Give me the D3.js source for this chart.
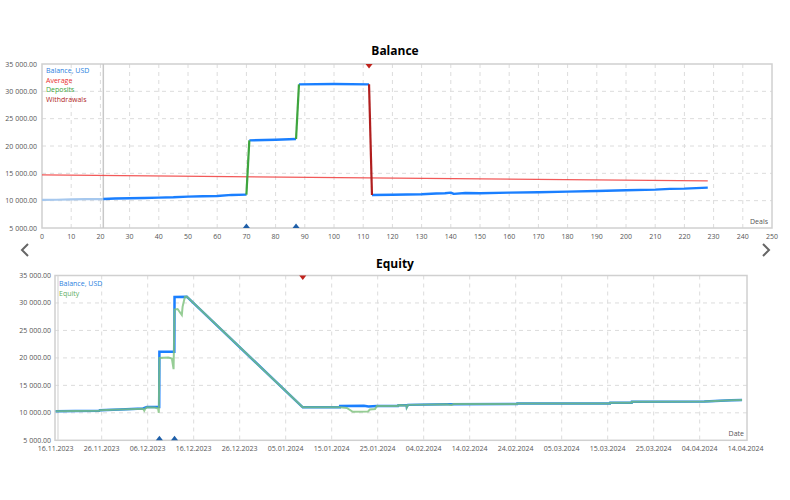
<!DOCTYPE html>
<html>
<head>
<meta charset="utf-8">
<script src="https://cdn.jsdelivr.net/npm/d3@7"></script>
<style>
body{margin:0;background:#fff;}
svg{display:block;font-family:"Open Sans",sans-serif;}
.tick{font-size:7px;fill:#555;}
</style>
</head>
<body>
<svg width="790" height="500"></svg>
<script>
// ---- Balance chart (by deals) ----
const dealTicks = [0,10,20,30,40,50,60,70,80,90,100,110,120,130,140,150,160,170,180,190,200,210,220,230,240,250];
const moneyTicks = [5000,10000,15000,20000,25000,30000,35000];
const moneyLabels = ['5 000.00','10 000.00','15 000.00','20 000.00','25 000.00','30 000.00','35 000.00'];

const balDeals = [0,5,10,15,21,25,30,35,40,45,50,55,60,65,70,71,80,87,88,100,112,113,120,130,135,138,140,141,145,150,160,170,180,190,200,210,215,220,228];
const balValues = [10130,10170,10220,10270,10300,10400,10430,10480,10560,10620,10740,10800,10860,11050,11100,21020,21150,21280,31280,31350,31280,11050,11080,11170,11300,11350,11470,11250,11400,11350,11470,11540,11650,11780,11900,12020,12150,12200,12390];
const avgDeals = [0,228];
const avgValues = [14700,13620];
const depositDeals = [70,87];
const withdrawalDeals = [112];
const startDeal = 21;

// ---- Equity chart (by date) ----
const dateTicks = ['16.11.2023','26.11.2023','06.12.2023','16.12.2023','26.12.2023','05.01.2024','15.01.2024','25.01.2024','04.02.2024','14.02.2024','24.02.2024','05.03.2024','15.03.2024','25.03.2024','04.04.2024','14.04.2024'];
const balDates = ['16.11.2023 00:00','20.11.2023 06:00','25.11.2023 12:00','25.11.2023 14:00','30.11.2023 00:00','05.12.2023 00:00','05.12.2023 20:00','08.12.2023 12:00','08.12.2023 13:00','11.12.2023 19:00','11.12.2023 20:00','14.12.2023 12:00','08.01.2024 17:00','16.01.2024 19:00','16.01.2024 20:00','22.01.2024 00:00','23.01.2024 00:00','24.01.2024 20:00','29.01.2024 10:00','29.01.2024 12:00','31.01.2024 07:00','31.01.2024 08:00','31.01.2024 14:00','09.02.2024 00:00','24.02.2024 07:00','24.02.2024 08:00','15.03.2024 12:00','15.03.2024 13:00','20.03.2024 05:00','20.03.2024 06:00','05.04.2024 00:00','10.04.2024 21:00','13.04.2024 05:00'];
const balDateValues = [10300,10350,10400,10480,10600,10800,11050,11050,21100,21100,31100,31150,11000,11000,11250,11300,11150,11250,11250,11400,11400,11100,11450,11580,11600,11700,11720,11820,11830,12000,12050,12300,12330];
const eqDates = ['16.11.2023 00:00','20.11.2023 06:00','25.11.2023 12:00','25.11.2023 14:00','30.11.2023 00:00','05.12.2023 00:00','05.12.2023 06:00','05.12.2023 12:00','05.12.2023 20:00','07.12.2023 12:00','08.12.2023 06:00','08.12.2023 10:00','08.12.2023 13:00','10.12.2023 12:00','11.12.2023 06:00','11.12.2023 15:00','11.12.2023 20:00','12.12.2023 12:00','13.12.2023 10:00','13.12.2023 14:00','14.12.2023 02:00','14.12.2023 12:00','08.01.2024 17:00','16.01.2024 19:00','18.01.2024 07:00','19.01.2024 14:00','22.01.2024 22:00','23.01.2024 07:00','24.01.2024 10:00','24.01.2024 20:00','29.01.2024 10:00','29.01.2024 12:00','31.01.2024 07:00','31.01.2024 08:00','31.01.2024 14:00','09.02.2024 00:00','10.02.2024 00:00','10.02.2024 12:00','24.02.2024 07:00','24.02.2024 08:00','15.03.2024 12:00','15.03.2024 13:00','20.03.2024 05:00','20.03.2024 06:00','05.04.2024 00:00','10.04.2024 21:00','13.04.2024 05:00'];
const eqValues = [10300,10350,10400,10480,10600,10750,10400,10800,11000,10950,10800,10000,20000,20050,19900,17950,28800,28900,27800,29300,31100,31150,11000,11000,10900,10200,10250,10600,10700,11250,11250,11400,11350,11000,11450,11580,11450,11600,11600,11700,11720,11820,11830,12000,12050,12300,12330];
const depositDates = ['08.12.2023 13:00','11.12.2023 20:00'];
const withdrawalDates = ['08.01.2024 17:00'];

const svg = d3.select('svg');
const parseT = d3.timeParse('%d.%m.%Y %H:%M');
const parseD = d3.timeParse('%d.%m.%Y');

function drawFrame(g, x0, x1, y0, y1){
    g.append('rect').attr('x',x0).attr('y',y0).attr('width',x1-x0).attr('height',y1-y0)
        .attr('fill','none').attr('stroke','#d0d0d0').attr('stroke-width',1.5);
}
function markUp(g, x, y){
    g.append('path').attr('d',`M${x-3.5},${y}L${x},${y-4.5}L${x+3.5},${y}Z`).attr('fill','#1f5fa8');
}
function markDown(g, x, y){
    g.append('path').attr('d',`M${x-3.5},${y}L${x},${y+4.5}L${x+3.5},${y}Z`).attr('fill','#c0221c');
}

// ================= Balance =================
const xd = d3.scaleLinear().domain([0,250]).range([42,772]);
const yb = d3.scaleLinear().domain([5000,35000]).range([228,64]);
const gTop = svg.append('g');

gTop.append('text').attr('x',395).attr('y',55).attr('text-anchor','middle')
   .attr('font-size',12).attr('font-weight','bold').text('Balance');

gTop.selectAll('.vgrid').data(dealTicks.slice(1,-1)).enter().append('line')
   .attr('x1',d=>xd(d)).attr('x2',d=>xd(d)).attr('y1',yb(35000)).attr('y2',yb(5000))
   .attr('stroke','#dcdcdc').attr('stroke-dasharray','4,4');
gTop.selectAll('.hgrid').data(moneyTicks.slice(1,-1)).enter().append('line')
   .attr('x1',xd(0)).attr('x2',xd(250)).attr('y1',d=>yb(d)).attr('y2',d=>yb(d))
   .attr('stroke','#dcdcdc').attr('stroke-dasharray','4,4');
drawFrame(gTop, xd(0), xd(250), yb(35000), yb(5000));

gTop.selectAll('.ylab').data(moneyTicks).enter().append('text').attr('class','tick')
   .attr('x',37).attr('y',d=>yb(d)+2.5).attr('text-anchor','end').text((d,i)=>moneyLabels[i]);
gTop.selectAll('.xlab').data(dealTicks).enter().append('text').attr('class','tick')
   .attr('x',d=>xd(d)).attr('y',239).attr('text-anchor','middle').text(d=>d);
gTop.append('text').attr('class','tick').attr('x',768).attr('y',224).attr('text-anchor','end').text('Deals');

// start marker line
gTop.append('line').attr('x1',xd(startDeal)).attr('x2',xd(startDeal)).attr('y1',yb(35000)).attr('y2',yb(5000))
   .attr('stroke','#c8c8c8').attr('stroke-width',1.5);

// average
const avgLine = d3.line().x((d,i)=>xd(avgDeals[i])).y(d=>yb(d));
gTop.append('path').attr('d',avgLine(avgValues)).attr('fill','none')
   .attr('stroke','#f03c3c').attr('stroke-width',1.3).attr('opacity',0.85);

// balance pieces
const pts = balDeals.map((d,i)=>[xd(d), yb(balValues[i])]);
function piece(a, b, color, w){
    const seg = pts.filter((p,i)=>balDeals[i]>=a && balDeals[i]<=b);
    gTop.append('path').attr('d',d3.line()(seg)).attr('fill','none')
       .attr('stroke',color).attr('stroke-width',w).attr('stroke-linejoin','round');
}
piece(0,21,'#a6c8ee',2.2);
piece(21,70,'#1a7fff',2.4);
piece(71,87,'#1a7fff',2.4);
piece(88,112,'#1a7fff',2.4);
piece(113,228,'#1a7fff',2.4);
depositDeals.forEach(d=>piece(d,d+1,'#3ea53e',2.2));
withdrawalDeals.forEach(d=>piece(d,d+1,'#b01e1e',2.2));

depositDeals.forEach(d=>markUp(gTop, xd(d), yb(5000)));
withdrawalDeals.forEach(d=>markDown(gTop, xd(d), yb(35000)));

const leg1 = [['Balance, USD','#2a7fe0'],['Average','#e83030'],['Deposits','#3ea53e'],['Withdrawals','#b01e1e']];
gTop.selectAll('.leg').data(leg1).enter().append('text').attr('font-size',7)
   .attr('x',46).attr('y',(d,i)=>73+i*9.7).attr('fill',d=>d[1]).text(d=>d[0]);

// arrows
svg.append('path').attr('d','M28,244L22,250L28,256').attr('fill','none').attr('stroke','#666').attr('stroke-width',2);
svg.append('path').attr('d','M763,244L769,250L763,256').attr('fill','none').attr('stroke','#666').attr('stroke-width',2);

// ================= Equity =================
const xt = d3.scaleTime().domain([parseD('16.11.2023'), parseD('14.04.2024')]).range([55.7,745.7]);
const ye = d3.scaleLinear().domain([5000,35000]).range([440.3,275.5]);
const gBot = svg.append('g');
const xL = 55, xR = 747;

gBot.append('text').attr('x',395).attr('y',268).attr('text-anchor','middle')
   .attr('font-size',12).attr('font-weight','bold').text('Equity');

gBot.selectAll('.vgrid').data(dateTicks.slice(1,-1)).enter().append('line')
   .attr('x1',d=>xt(parseD(d))).attr('x2',d=>xt(parseD(d))).attr('y1',ye(35000)).attr('y2',ye(5000))
   .attr('stroke','#dcdcdc').attr('stroke-dasharray','4,4');
gBot.selectAll('.hgrid').data(moneyTicks.slice(1,-1)).enter().append('line')
   .attr('x1',xL).attr('x2',xR).attr('y1',d=>ye(d)).attr('y2',d=>ye(d))
   .attr('stroke','#dcdcdc').attr('stroke-dasharray','4,4');
drawFrame(gBot, xL, xR, ye(35000), ye(5000));
gBot.append('line').attr('x1',xL+3).attr('x2',xL+3).attr('y1',ye(35000)).attr('y2',ye(5000))
   .attr('stroke','#d8d8d8').attr('stroke-width',1.2);

gBot.selectAll('.ylab').data(moneyTicks).enter().append('text').attr('class','tick')
   .attr('x',51).attr('y',d=>ye(d)+2.5).attr('text-anchor','end').text((d,i)=>moneyLabels[i]);
gBot.selectAll('.xlab').data(dateTicks).enter().append('text').attr('class','tick')
   .attr('x',d=>xt(parseD(d))).attr('y',451).attr('text-anchor','middle').text(d=>d);
gBot.append('text').attr('class','tick').attr('x',744).attr('y',436).attr('text-anchor','end').text('Date');

const balLine = d3.line().x((d,i)=>xt(parseT(balDates[i]))).y(d=>ye(d));
const eqLine = d3.line().x((d,i)=>xt(parseT(eqDates[i]))).y(d=>ye(d));
gBot.append('path').attr('d',balLine(balDateValues)).attr('fill','none')
   .attr('stroke','#1a7fff').attr('stroke-width',2.5);
gBot.append('path').attr('d',eqLine(eqValues)).attr('fill','none')
   .attr('stroke','#7cc07a').attr('stroke-width',2).attr('opacity',0.8);

depositDates.forEach(d=>markUp(gBot, xt(parseT(d)), ye(5000)));
withdrawalDates.forEach(d=>markDown(gBot, xt(parseT(d)), ye(35000)));

const leg2 = [['Balance, USD','#2a7fe0'],['Equity','#5fae5f']];
gBot.selectAll('.leg').data(leg2).enter().append('text').attr('font-size',7)
   .attr('x',59).attr('y',(d,i)=>286+i*9.7).attr('fill',d=>d[1]).text(d=>d[0]);
</script>
</body>
</html>
